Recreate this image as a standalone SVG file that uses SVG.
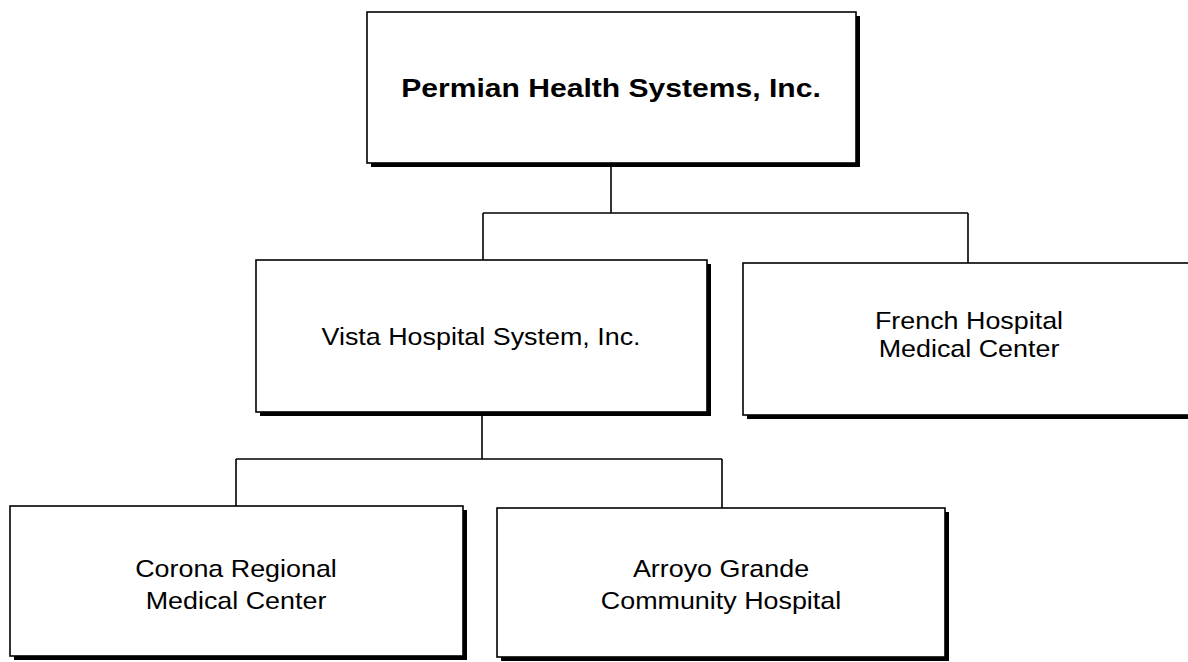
<svg xmlns="http://www.w3.org/2000/svg" width="1188" height="662" viewBox="0 0 1188 662">
<style>
.sh{fill:#000}
.bx{fill:#fff;stroke:#000;stroke-width:1.6}
.t{font-family:"Liberation Sans",Arial,sans-serif;font-size:24px;fill:#000;text-anchor:middle}
.tb{font-family:"Liberation Sans",Arial,sans-serif;font-size:25.5px;font-weight:bold;fill:#000;text-anchor:middle}
.c{fill:none;stroke:#000;stroke-width:1.6}
</style>
<rect width="1188" height="662" fill="#fff"/>
<g id="connectors">
<path class="c" d="M611,166 V213 M483,213 H968 M483,213 V260 M968,213 V263"/>
<path class="c" d="M482,414 V459 M236,459 H722 M236,459 V506 M722,459 V508"/>
</g>
<g id="permian">
<rect class="sh" x="371" y="16" width="489" height="151"/>
<rect class="bx" x="367" y="12" width="489" height="151"/>
<text class="tb" transform="translate(611,97) scale(1.18,1)" x="0" y="0">Permian Health Systems, Inc.</text>
</g>
<g id="vista">
<rect class="sh" x="260" y="264" width="451" height="152"/>
<rect class="bx" x="256" y="260" width="451" height="152"/>
<text class="t" transform="translate(481,345) scale(1.12,1)" x="0" y="0">Vista Hospital System, Inc.</text>
</g>
<g id="french">
<rect class="sh" x="747" y="267" width="452" height="152"/>
<rect class="bx" x="743" y="263" width="452" height="152"/>
<text class="t" transform="translate(969,329) scale(1.12,1)" x="0" y="0">French Hospital</text>
<text class="t" transform="translate(969,357) scale(1.12,1)" x="0" y="0">Medical Center</text>
</g>
<g id="corona">
<rect class="sh" x="14" y="510" width="453" height="150"/>
<rect class="bx" x="10" y="506" width="453" height="150"/>
<text class="t" transform="translate(236,577) scale(1.12,1)" x="0" y="0">Corona Regional</text>
<text class="t" transform="translate(236,609) scale(1.12,1)" x="0" y="0">Medical Center</text>
</g>
<g id="arroyo">
<rect class="sh" x="501" y="512" width="448" height="149"/>
<rect class="bx" x="497" y="508" width="448" height="149"/>
<text class="t" transform="translate(721,577) scale(1.12,1)" x="0" y="0">Arroyo Grande</text>
<text class="t" transform="translate(721,609) scale(1.12,1)" x="0" y="0">Community Hospital</text>
</g>
</svg>
